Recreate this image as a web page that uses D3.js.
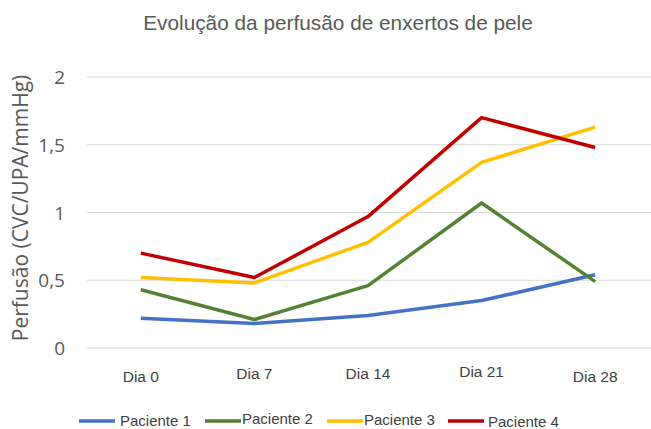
<!DOCTYPE html>
<html><head><meta charset="utf-8">
<script src="https://cdn.jsdelivr.net/npm/d3@7"></script>
<style>body{margin:0;background:#fff}svg{display:block;font-family:"Liberation Sans",Arial,sans-serif}</style>
</head><body><svg id="c" width="651" height="429"></svg>
<script>
const categories = ["Dia 0","Dia 7","Dia 14","Dia 21","Dia 28"];
const seriesNames = ["Paciente 1","Paciente 2","Paciente 3","Paciente 4"];
const paciente1 = [0.22,0.18,0.24,0.35,0.54];
const paciente2 = [0.43,0.21,0.46,1.07,0.49];
const paciente3 = [0.52,0.48,0.78,1.37,1.63];
const paciente4 = [0.70,0.52,0.97,1.70,1.48];
const yTicks = [0,0.5,1,1.5,2];
const yTickLabels = ["0","0,5","1","1,5","2"];
const colors = ["#4472c4","#548235","#ffc000","#c00000"];
const series = [paciente1,paciente2,paciente3,paciente4];

const svg = d3.select("#c");
const pLeft = 84, pRight = 652, pTop = 77, pBottom = 348;
const x = d3.scalePoint().domain(categories).range([pLeft, pRight]).padding(0.5);
const y = d3.scaleLinear().domain([0,2]).range([pBottom, pTop]);

svg.append("g").selectAll("line").data(yTicks).join("line")
  .attr("x1", pLeft+3).attr("x2", 651).attr("y1", d=>y(d)).attr("y2", d=>y(d))
  .attr("stroke", "#d9d9d9").attr("stroke-width", 1);

svg.append("g").selectAll("text").data(yTicks).join("text")
  .attr("x", 65).attr("y", d=>y(d)+7).attr("text-anchor","end")
  .style("font-family","'Open Sans',sans-serif")
  .attr("font-size", 19).attr("fill","#595959").text((d,i)=>yTickLabels[i]);

const xOff = [3,0,0,-2,3];
svg.append("g").selectAll("text").data(categories).join("text")
  .attr("x", d=>x(d)).attr("y", (d,i)=>379+xOff[i]).attr("text-anchor","middle")
  .attr("font-size", 15.5).attr("fill","#404040").text(d=>d);

const line = d3.line().x((d,i)=>x(categories[i])).y(d=>y(d));
svg.append("g").selectAll("path").data(series).join("path")
  .attr("d", d=>line(d)).attr("fill","none")
  .attr("stroke",(d,i)=>colors[i]).attr("stroke-width",3.5)
  .attr("stroke-linejoin","round");

svg.append("text").attr("x",338).attr("y",30).attr("text-anchor","middle")
  .attr("font-size",20.8).attr("fill","#595959").text("Evolução da perfusão de enxertos de pele");

svg.append("text").attr("transform","translate(28,208) rotate(-90)").attr("text-anchor","middle")
  .style("font-family","'Open Sans',sans-serif")
  .attr("font-size",21).attr("fill","#595959").text("Perfusão (CVC/UPA/mmHg)");

const legX = [79,205,327,448];
const lg = svg.append("g").selectAll("g").data(seriesNames).join("g")
  .attr("transform",(d,i)=>`translate(${legX[i]},421)`);
lg.append("line").attr("x1",0).attr("x2",36).attr("y1",0).attr("y2",0)
  .attr("stroke",(d,i)=>colors[i]).attr("stroke-width",3.5);
lg.append("text").attr("x",(d,i)=>i===0?41:(i===3?40:37)).attr("y",(d,i)=>[5,3,4,6][i]).attr("font-size",15)
  .attr("fill","#404040").text(d=>d);
</script></body></html>
